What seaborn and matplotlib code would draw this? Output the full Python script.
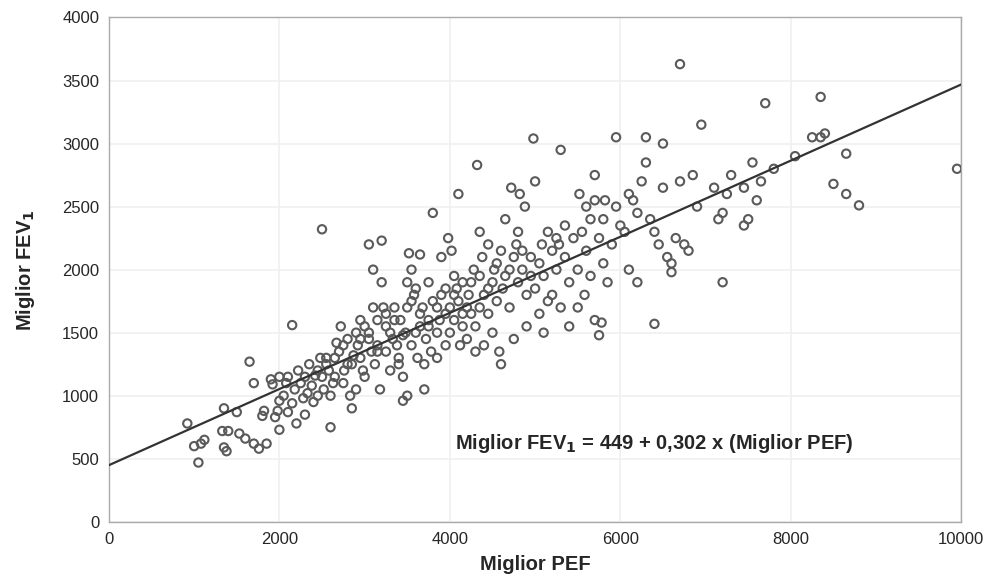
# Miglior PEF vs Miglior FEV1 scatter with regression line

import numpy as np
import pandas as pd
import matplotlib
matplotlib.use('Agg')
import matplotlib.pyplot as plt
import seaborn as sns

# Data (Miglior PEF, Miglior FEV1)
pef = [
    920, 1000, 1050, 1080, 1120, 1350, 1330, 1350, 1400, 1380,
    1500, 1530, 1600, 1650, 1700, 1700, 1760, 1800, 1820, 1850, 1900, 1920, 1950, 1980, 2000, 2000, 2000,
    2050, 2080, 2100, 2100, 2150, 2150, 2180, 2200, 2220, 2250, 2280, 2300, 2300, 2330, 2350, 2380,
    2400, 2420, 2450, 2480, 2500, 2500, 2520, 2550, 2580, 2600, 2600, 2630, 2650, 2670,
    2700, 2720, 2750, 2760, 2800, 2800, 2830, 2850, 2870, 2900, 2900, 2920, 2950, 2950, 2980, 3000,
    3000, 3050, 3050, 3080, 3100, 3100, 3120, 3150, 3150, 3180, 3200, 3200, 3220,
    3250, 3250, 3300, 3300, 3330, 3350, 3380, 3400, 3400, 3420, 3450, 3450, 3480, 3500, 3500, 3500,
    3520, 3550, 3550, 3580, 3600, 3600, 3620, 3650, 3650, 3680, 3700, 3700, 3720, 3750, 3750, 3780,
    3800, 3800,
    3850, 3850, 3880, 3900, 3900, 3950, 3950, 3980, 4000, 4000, 4020, 4050, 4050, 4080, 4100, 4100,
    4120, 4150, 4150, 4200, 4200, 4220, 4250, 4280, 4300, 4300, 4320, 4350, 4350, 4380, 4400, 4400,
    4450, 4450, 4500, 4500, 4520, 4550, 4580, 4600, 4600, 4620, 4650, 4700, 4700, 4720, 4750, 4780,
    4800, 4800, 4820, 4850, 4880, 4900, 4900, 4950, 4980, 5000, 5000,
    5050, 5080, 5100, 5100, 5150, 5200, 5200, 5250, 5280, 5300, 5300, 5350, 5400, 5400, 5450, 5500,
    5500, 5520, 5550, 5580, 5600, 5600, 5650,
    5650, 5700, 5700, 5700, 5750, 5750, 5780, 5800, 5800, 5820, 5850, 5900, 5950, 5950, 6000, 6050,
    6100, 6100, 6150, 6200, 6200,
    6250, 6300, 6300, 6350, 6400, 6400, 6450, 6500, 6500, 6550, 6600, 6600, 6650, 6700, 6700, 6750,
    6800, 6850, 6900, 6950,
    7100, 7150, 7200, 7200, 7250, 7300, 7450, 7450, 7500, 7550, 7600, 7650, 7700, 7800,
    8050, 8250, 8350, 8350, 8400, 8500, 8650, 8650, 8800, 9950,
    # extra points in the dense core
    2450, 2550, 2650, 2750, 2850, 2950, 3050, 3150, 3250, 3350, 3450, 3550, 3650, 3750, 3850,
    3950, 4050, 4150, 4250, 4350, 4450, 4550, 4650, 4750, 4850, 4950, 5050, 5150, 5250, 5350,
]
fev1 = [
    780, 600, 470, 620, 650, 900, 720, 590, 720, 560,
    870, 700, 660, 1270, 1100, 620, 580, 840, 880, 620, 1130, 1090, 830, 880, 1150, 730, 960,
    1000, 1100, 1150, 870, 1560, 940, 1050, 780, 1200, 1100, 980, 850, 1150, 1020, 1250, 1080,
    950, 1160, 1000, 1300, 2320, 1150, 1050, 1250, 1200, 750, 1000, 1100, 1300, 1420,
    1350, 1550, 1100, 1200, 1250, 1450, 1000, 900, 1320, 1500, 1050, 1400, 1300, 1600, 1200, 1150,
    1550, 2200, 1450, 1350, 2000, 1700, 1250, 1400, 1600, 1050, 2230, 1900, 1700,
    1650, 1350, 1500, 1200, 1450, 1700, 1400, 1300, 1250, 1600, 1150, 960, 1500, 1000, 1700, 1900,
    2130, 2000, 1400, 1800, 1850, 1500, 1300, 1550, 2120, 1700, 1250, 1050, 1450, 1900, 1600, 1350,
    1750, 2450,
    1500, 1300, 1600, 2100, 1800, 1650, 1400, 2250, 1700, 1500, 2150, 1950, 1600, 1850, 2600, 1750,
    1400, 1550, 1900, 1700, 1450, 1800, 1650, 2000, 1550, 1350, 2830, 1700, 2300, 2100, 1800, 1400,
    2200, 1650, 1500, 1900, 2000, 1750, 1350, 2150, 1250, 1850, 2400, 2000, 1700, 2650, 1450, 2200,
    2300, 1900, 2600, 2000, 2500, 1800, 1550, 2100, 3040, 2700, 1850,
    1650, 2200, 1500, 1950, 1750, 2150, 1800, 2000, 2200, 2950, 1700, 2100, 1900, 1550, 2250, 2000,
    1700, 2600, 2300, 1800, 2500, 2150, 1950,
    2400, 2750, 2550, 1600, 2250, 1480, 1580, 2050, 2400, 2550, 1900, 2200, 3050, 2500, 2350, 2300,
    2000, 2600, 2550, 1900, 2450,
    2700, 3050, 2850, 2400, 1570, 2300, 2200, 2650, 3000, 2100, 2050, 1980, 2250, 3630, 2700, 2200,
    2150, 2750, 2500, 3150,
    2650, 2400, 2450, 1900, 2600, 2750, 2650, 2350, 2400, 2850, 2550, 2700, 3320, 2800,
    2900, 3050, 3370, 3050, 3080, 2680, 2920, 2600, 2510, 2800,
    1200, 1300, 1150, 1400, 1250, 1450, 1500, 1350, 1550, 1600, 1480, 1750, 1650, 1550, 1700,
    1850, 1800, 1650, 1900, 1950, 1850, 2050, 1950, 2100, 2150, 1950, 2050, 2300, 2250, 2350,
]

# Regression line from the printed equation
intercept = 449
slope = 0.302

x_ticks = [0, 2000, 4000, 6000, 8000, 10000]
y_ticks = [0, 500, 1000, 1500, 2000, 2500, 3000, 3500, 4000]

df = pd.DataFrame({'pef': pef, 'fev1': fev1})

sns.set_style('white')
plt.rcParams['font.family'] = ['Liberation Sans', 'DejaVu Sans']

fig, ax = plt.subplots(figsize=(9.9, 5.83), dpi=100)
fig.subplots_adjust(left=0.11, right=0.971, top=0.97, bottom=0.105)

sns.scatterplot(data=df, x='pef', y='fev1', ax=ax, s=36, marker='o',
                facecolor='none', edgecolor='#5a5a5a', linewidth=1.5, zorder=3)
ax.axline((0, intercept), slope=slope, color='#333333', linewidth=1.6, zorder=4)

ax.set_xlim(0, 10000)
ax.set_ylim(0, 4000)
ax.set_xticks(x_ticks)
ax.set_yticks(y_ticks)
ax.set_xticks(np.arange(0, 10001, 1000), minor=True)
ax.set_yticks(np.arange(0, 4001, 250), minor=True)
ax.tick_params(axis='both', which='major', labelsize=12, direction='in',
               length=3, color='#999999', pad=7)
ax.tick_params(axis='both', which='minor', direction='in', length=2, color='#bbbbbb')
ax.grid(True, which='major', color='#f0f0f0', linewidth=1.2)
for sp in ax.spines.values():
    sp.set_color('#aaaaaa')
    sp.set_linewidth(1.0)

ax.set_xlabel('Miglior PEF', fontsize=14.5, fontweight='bold', labelpad=6)
ax.set_ylabel(r'Miglior FEV$_\mathbf{1}$', fontsize=14.5, fontweight='bold', labelpad=18)

ax.text(4060, 620, r'Miglior FEV$_\mathbf{1}$ = 449 + 0,302 x (Miglior PEF)',
        fontsize=14.5, fontweight='bold', va='center', ha='left', zorder=5)

fig.savefig('out.png', dpi=100)
